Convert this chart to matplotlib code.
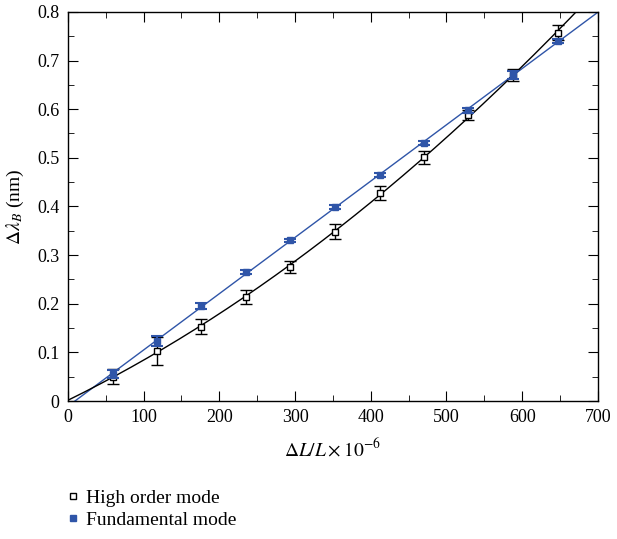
import numpy as np
import matplotlib
matplotlib.use("Agg")
import matplotlib.pyplot as plt
from matplotlib.ticker import MultipleLocator
from matplotlib.lines import Line2D

plt.rcParams['font.family'] = ['Liberation Serif', 'DejaVu Serif']
plt.rcParams['mathtext.fontset'] = 'stix'

strain = [59, 118, 176, 235, 294, 353, 412, 470, 529, 588, 647]
high_order = [0.050, 0.103, 0.153, 0.214, 0.276, 0.348, 0.428, 0.501, 0.588, 0.670, 0.757]
high_err = [0.015, 0.028, 0.015, 0.015, 0.012, 0.015, 0.015, 0.013, 0.010, 0.012, 0.015]
fundamental = [0.056, 0.123, 0.196, 0.265, 0.330, 0.398, 0.464, 0.531, 0.598, 0.671, 0.740]
fund_err = [0.008, 0.010, 0.006, 0.004, 0.004, 0.004, 0.004, 0.004, 0.005, 0.008, 0.005]

blue = '#2f55a8'

fig = plt.figure(figsize=(6.17, 5.39), dpi=100)
ax = fig.add_axes([0.110, 0.256, 0.859, 0.722])

xs = np.linspace(0, 700, 300)
pb = np.polyfit(strain, fundamental, 1)
ph = np.polyfit(strain, high_order, 2)
ax.plot(xs, np.polyval(pb, xs), color=blue, lw=1.0, zorder=2)
ax.plot(xs, np.polyval(ph, xs), color='black', lw=1.0, zorder=2)

ax.errorbar(strain, high_order, yerr=high_err, fmt='s', ms=4.5, mfc='white', mec='black',
            mew=1.0, ecolor='black', elinewidth=1.0, capsize=4, capthick=1.0, zorder=3,
            label='High order mode')
ax.errorbar(strain, fundamental, yerr=fund_err, fmt='s', ms=4.5, mfc=blue, mec=blue,
            ecolor=blue, elinewidth=1.5, capsize=4, capthick=1.5, zorder=4,
            label='Fundamental mode')

ax.set_xlim(0, 700)
ax.set_ylim(0, 0.8)
ax.xaxis.set_major_locator(MultipleLocator(100))
ax.xaxis.set_minor_locator(MultipleLocator(50))
ax.yaxis.set_minor_locator(MultipleLocator(0.05))
ax.set_yticks(np.arange(0, 0.81, 0.1))
ax.set_yticklabels(['0'] + [f'{v:.1f}' for v in np.arange(0.1, 0.81, 0.1)])
ax.tick_params(which='both', direction='in', top=True, right=True, labelsize=13, pad=6)
ax.tick_params(which='major', length=7)
ax.tick_params(which='minor', length=4)
for s in ax.spines.values():
    s.set_linewidth(1.0)

ax.set_xlabel(r'$\Delta L/L\times10^{-6}$', fontsize=14, labelpad=8)
ax.set_ylabel(r'$\Delta\lambda_B$ (nm)', fontsize=14, labelpad=8)

handles = [Line2D([], [], ls='', marker='s', ms=4.5, mfc='white', mec='black'),
           Line2D([], [], ls='', marker='s', ms=4.5, mfc=blue, mec=blue)]
fig.legend(handles, ['High order mode', 'Fundamental mode'], loc='upper left',
           bbox_to_anchor=(0.097, 0.106), frameon=False, fontsize=14,
           handlelength=0.6, handletextpad=0.35, labelspacing=0.2, borderaxespad=0)

fig.savefig('out.png', dpi=100)
